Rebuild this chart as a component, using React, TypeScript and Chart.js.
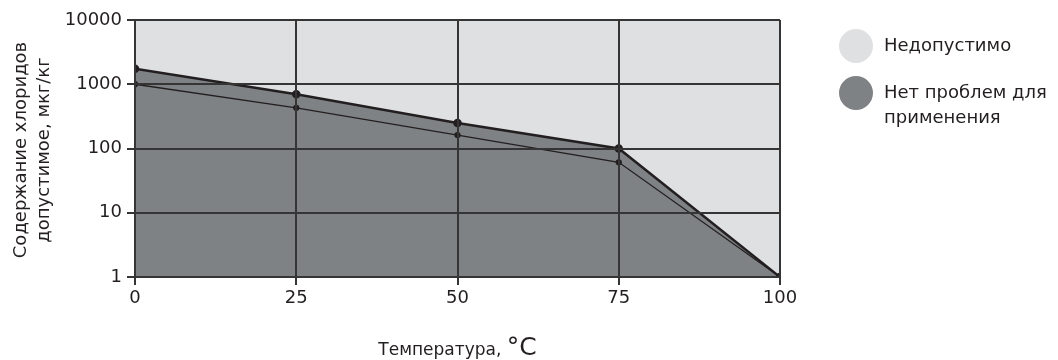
import React, { useEffect, useRef } from "react";
import { Chart, registerables } from "chart.js";

Chart.register(...registerables);

const temperatures = [0, 25, 50, 75, 100];
const upperLimit = [1750, 700, 250, 100, 1];
const lowerLimit = [1000, 430, 162, 61, 1];
const yTicks = [1, 10, 100, 1000, 10000];
const legendLabels = ["Недопустимо", "Нет проблем для применения"];
const legendLines = [["Недопустимо"], ["Нет проблем для", "применения"]];
const yTitleLines = ["Содержание хлоридов", "допустимое, мкг/кг"];
const xTitle = "Температура, ";
const xTitleUnit = "°C";

const FONT = "'DejaVu Sans', sans-serif";
const LIGHT = "#dfe0e2";
const DARK = "#7f8285";
const INK = "#231f20";
const GRID = "#353535";
const TEXT = "#231f20";

export default function App() {
  const ref = useRef<HTMLCanvasElement | null>(null);

  useEffect(() => {
    if (!ref.current) return;
    const bgPlugin = {
      id: "bg",
      beforeDraw(chart: any) {
        const { ctx, chartArea } = chart;
        ctx.save();
        ctx.fillStyle = LIGHT;
        ctx.fillRect(chartArea.left, chartArea.top, chartArea.right - chartArea.left, chartArea.bottom - chartArea.top);
        ctx.restore();
      },
    };
    const decoPlugin = {
      id: "deco",
      afterDraw(chart: any) {
        const { ctx, chartArea } = chart;
        ctx.save();
        ctx.fillStyle = TEXT;
        // y title
        ctx.font = `18px ${FONT}`;
        ctx.textAlign = "center";
        ctx.textBaseline = "middle";
        const cy = 150;
        [21, 44].forEach((x, i) => {
          ctx.save();
          ctx.translate(x, cy);
          ctx.rotate(-Math.PI / 2);
          ctx.fillText(yTitleLines[i], 0, 0);
          ctx.restore();
        });
        // x title
        ctx.textBaseline = "alphabetic";
        ctx.textAlign = "left";
        ctx.font = `17px ${FONT}`;
        const w1 = ctx.measureText(xTitle).width;
        ctx.font = `25px ${FONT}`;
        const w2 = ctx.measureText(xTitleUnit).width;
        const cx = (chartArea.left + chartArea.right) / 2;
        const start = cx - (w1 + w2) / 2;
        ctx.font = `17px ${FONT}`;
        ctx.fillText(xTitle, start, 355);
        ctx.font = `25px ${FONT}`;
        ctx.fillText(xTitleUnit, start + w1, 355);
        // legend
        const items = [
          { color: LIGHT, y: 46, lines: legendLines[0] },
          { color: DARK, y: 93, lines: legendLines[1] },
        ];
        ctx.font = `18px ${FONT}`;
        ctx.textBaseline = "middle";
        items.forEach((it) => {
          ctx.beginPath();
          ctx.fillStyle = it.color;
          ctx.arc(856, it.y, 17, 0, Math.PI * 2);
          ctx.fill();
          ctx.fillStyle = TEXT;
          it.lines.forEach((l, j) => ctx.fillText(l, 884, it.y + j * 25));
        });
        ctx.restore();
      },
    };

    const chart = new Chart(ref.current, {
      type: "line",
      data: {
        labels: temperatures,
        datasets: [
          {
            label: legendLabels[1],
            data: temperatures.map((t, i) => ({ x: t, y: upperLimit[i] })),
            borderColor: INK,
            borderWidth: 2.5,
            backgroundColor: DARK,
            fill: "start",
            pointRadius: 3,
            pointBackgroundColor: INK,
            pointBorderColor: INK,
            tension: 0,
            order: 2,
          },
          {
            label: "lower",
            data: temperatures.map((t, i) => ({ x: t, y: lowerLimit[i] })),
            borderColor: INK,
            borderWidth: 1.3,
            fill: false,
            pointRadius: 2.5,
            pointBackgroundColor: INK,
            pointBorderColor: INK,
            tension: 0,
            order: 1,
          },
        ],
      },
      options: {
        responsive: false,
        animation: false,
        layout: { padding: { left: 0, right: 278, top: 20, bottom: 0 } },
        plugins: { legend: { display: false }, tooltip: { enabled: false } },
        scales: {
          x: {
            type: "linear",
            min: 0,
            max: 100,
            ticks: { stepSize: 25, color: TEXT, font: { family: FONT, size: 18 }, padding: 3 },
            grid: { z: 1, color: GRID, lineWidth: 2, tickLength: 8, tickColor: GRID, drawTicks: true },
            border: { z: 1, display: true, color: GRID, width: 2 },
            afterFit(scale: any) {
              scale.height = 83;
            },
          },
          y: {
            type: "logarithmic",
            min: 1,
            max: 10000,
            afterBuildTicks(scale: any) {
              scale.ticks = yTicks.map((v) => ({ value: v }));
            },
            ticks: {
              color: TEXT,
              font: { family: FONT, size: 18 },
              padding: 5,
              callback: (v: any) => String(v),
            },
            grid: { z: 1, color: GRID, lineWidth: 2, tickLength: 8, tickColor: GRID, drawTicks: true },
            border: { z: 1, display: true, color: GRID, width: 2 },
            afterFit(scale: any) {
              scale.width = 135;
            },
          },
        },
      },
      plugins: [bgPlugin, decoPlugin],
    } as any);
    return () => chart.destroy();
  }, []);

  return (
    <div style={{ position: "fixed", left: 0, top: 0, width: 1058, height: 360, background: "#fff" }}>
      <canvas ref={ref} width={1058} height={360} style={{ display: "block" }} />
    </div>
  );
}
